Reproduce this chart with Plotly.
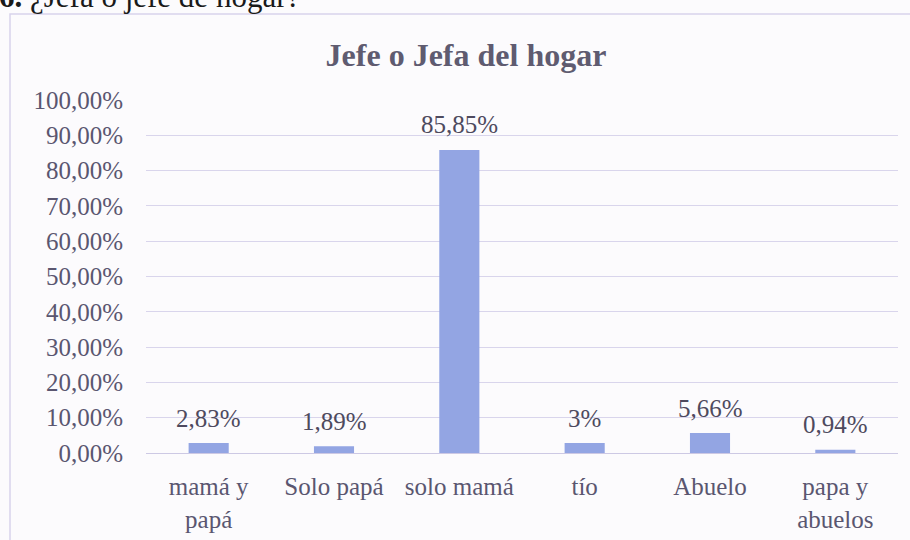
import plotly.graph_objects as go

categories = ["mamá y<br>papá", "Solo papá", "solo mamá", "tío", "Abuelo", "papa y<br>abuelos"]
values = [2.83, 1.89, 85.85, 2.83, 5.66, 0.94]
value_labels = ["2,83%", "1,89%", "85,85%", "3%", "5,66%", "0,94%"]
y_ticks = [0, 10, 20, 30, 40, 50, 60, 70, 80, 90, 100]
y_tick_labels = ["0,00%", "10,00%", "20,00%", "30,00%", "40,00%", "50,00%",
                 "60,00%", "70,00%", "80,00%", "90,00%", "100,00%"]
title_text = "Jefe o Jefa del hogar"
caption_text = "<b>6.</b> ¿Jefa o jefe de hogar?"

FONT = "Liberation Serif"
W, H = 910, 540
ML, MR, MT, MB = 146, 12, 100, 87
pw = W - ML - MR
ph = H - MT - MB

fig = go.Figure()
fig.add_trace(go.Bar(
    x=categories, y=values,
    marker=dict(color="#93a5e3", line=dict(width=0)),
    hoverinfo="skip",
))

for c, v, t in zip(categories, values, value_labels):
    fig.add_annotation(x=c, y=v, xref="x", yref="y", text=t, showarrow=False,
                       yanchor="middle", yshift=25,
                       font=dict(family=FONT, size=25, color="#4e4a5e"))

# caption partially cut at the top
fig.add_annotation(x=(0 - ML) / pw - 0.004, y=(ph - (16 - MT)) / ph, xref="paper", yref="paper",
                   xanchor="left", yanchor="bottom", showarrow=False, text=caption_text,
                   font=dict(family=FONT, size=31, color="#1a1a1a"))

# chart border
fig.add_shape(type="rect", xref="paper", yref="paper",
              x0=(10 - ML) / pw, x1=1.05, y0=-0.5, y1=(H - MB - 14) / ph,
              line=dict(color="#d8d4ec", width=1.5), fillcolor="rgba(0,0,0,0)", layer="below")

fig.update_layout(
    width=W, height=H,
    margin=dict(l=ML, r=MR, t=MT, b=MB, pad=0, autoexpand=False),
    paper_bgcolor="#fcfbfd", plot_bgcolor="#fcfbfd",
    bargap=0.68,
    showlegend=False,
    title=dict(text="<b>" + title_text + "</b>", x=466 / W, xanchor="center",
               y=1 - 55 / H, yanchor="middle", xref="container", yref="container",
               font=dict(family=FONT, size=32, color="#5f5b70")),
    xaxis=dict(showgrid=False, showline=False, zeroline=False, ticks="",
               tickfont=dict(family=FONT, size=25, color="#5a5670"),
               ticklabelstandoff=16, fixedrange=True, automargin=False),
    yaxis=dict(range=[0, 100], tickvals=y_ticks, ticktext=y_tick_labels,
               showgrid=True, gridcolor="#d9d5ec", gridwidth=1,
               zeroline=True, zerolinecolor="#cdc9e4", zerolinewidth=1.2,
               showline=False, ticks="",
               tickfont=dict(family=FONT, size=25, color="#5a5670"),
               ticklabelstandoff=22, fixedrange=True, automargin=False),
)

fig.write_html("out.html", config={"displayModeBar": False},
               post_script="document.body.style.margin='0px';")
